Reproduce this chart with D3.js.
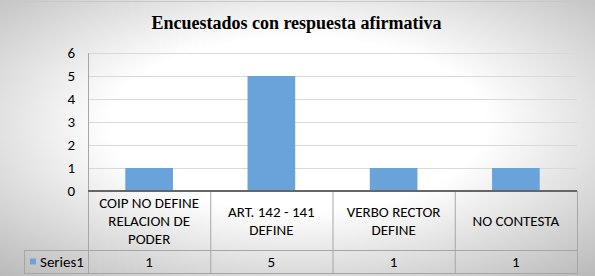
<!DOCTYPE html>
<html>
<head>
<meta charset="utf-8">
<script src="https://cdn.jsdelivr.net/npm/d3@7"></script>
<style>
  html, body { margin: 0; padding: 0; background: #fff; }
  svg { display: block; }
</style>
</head>
<body>
<svg id="chart" width="595" height="276"></svg>
<script>
// data
const chartTitle = 'Encuestados con respuesta afirmativa';
const categories = ['COIP NO DEFINE RELACION DE PODER', 'ART. 142 - 141 DEFINE', 'VERBO RECTOR DEFINE', 'NO CONTESTA'];
const categoryLines = [['COIP NO DEFINE', 'RELACION DE', 'PODER'], ['ART. 142 - 141', 'DEFINE'], ['VERBO RECTOR', 'DEFINE'], ['NO CONTESTA']];
const seriesName = 'Series1';
const seriesValues = [1, 5, 1, 1];
const yTicks = [0, 1, 2, 3, 4, 5, 6];

const W = 595, H = 276;
const margin = { top: 53, left: 88, right: 18 };
const plotBottom = 191;
const headerBottom = 250;
const tableBottom = 273;
const legendLeft = 24;
const font = 'Carlito, Lato, "Liberation Sans", sans-serif';
const fontSize = '15px';

const svg = d3.select('#chart');

// background gradient
const defs = svg.append('defs');
const grad = defs.append('radialGradient')
    .attr('id', 'bg')
    .attr('cx', '50%').attr('cy', '45%').attr('r', '75%');
grad.append('stop').attr('offset', '0%').attr('stop-color', '#ffffff');
grad.append('stop').attr('offset', '42%').attr('stop-color', '#ffffff');
grad.append('stop').attr('offset', '100%').attr('stop-color', '#b8b8b8');

svg.append('rect')
    .attr('width', W).attr('height', H)
    .attr('fill', 'url(#bg)');
svg.append('line')
    .attr('x1', 0).attr('x2', W).attr('y1', 1.5).attr('y2', 1.5)
    .attr('stroke', '#c8c8c8').attr('stroke-width', 1);

// scales
const xScale = d3.scaleBand().domain(categories).range([margin.left, W - margin.right]).padding(0);
const yScale = d3.scaleLinear().domain([0, 6]).range([plotBottom, margin.top]);

// title
svg.append('text')
    .attr('x', W / 2 - 1).attr('y', 29)
    .attr('text-anchor', 'middle')
    .style('font-family', '"Liberation Serif", "Times New Roman", serif')
    .style('font-weight', 'bold')
    .style('font-size', '18px')
    .attr('fill', '#000')
    .text(chartTitle);

// y axis + gridlines
const yAxis = svg.append('g')
    .attr('class', 'axis axis-y')
    .attr('transform', `translate(${margin.left}, 0)`)
    .call(d3.axisLeft(yScale).tickValues(yTicks).tickSize(-(W - margin.right - margin.left)).tickPadding(13).tickFormat(d3.format('d')));
yAxis.select('.domain').remove();
yAxis.selectAll('.tick line').attr('stroke', '#d9d9d9');
yAxis.selectAll('.tick text')
    .style('font-family', font).style('font-size', fontSize).attr('fill', '#000');

// bars
const barW = xScale.bandwidth() * 0.39;
svg.append('g').attr('class', 'bars')
    .selectAll('.bar')
    .data(seriesValues)
    .enter()
    .append('rect')
    .attr('class', 'bar')
    .attr('x', (d, i) => xScale(categories[i]) + (xScale.bandwidth() - barW) / 2)
    .attr('y', d => yScale(d))
    .attr('width', barW)
    .attr('height', d => yScale(0) - yScale(d))
    .style('fill', '#6aa3da');

// data table lines
const table = svg.append('g').attr('class', 'table');
const lineColor = '#a6a6a6';
// plot left edge, down to table bottom
table.append('line')
    .attr('x1', margin.left + 0.5).attr('x2', margin.left + 0.5)
    .attr('y1', margin.top).attr('y2', tableBottom)
    .attr('stroke', lineColor);
// column separators
categories.forEach((c, i) => {
    const x = xScale(c) + xScale.bandwidth();
    table.append('line')
        .attr('x1', x + 0.5).attr('x2', x + 0.5)
        .attr('y1', plotBottom).attr('y2', tableBottom)
        .attr('stroke', lineColor);
});
// horizontal lines
table.append('line')
    .attr('x1', legendLeft).attr('x2', W - margin.right)
    .attr('y1', headerBottom + 0.5).attr('y2', headerBottom + 0.5)
    .attr('stroke', lineColor);
table.append('line')
    .attr('x1', legendLeft).attr('x2', W - margin.right + 1)
    .attr('y1', tableBottom + 0.5).attr('y2', tableBottom + 0.5)
    .attr('stroke', lineColor);
table.append('line')
    .attr('x1', legendLeft + 0.5).attr('x2', legendLeft + 0.5)
    .attr('y1', headerBottom).attr('y2', tableBottom)
    .attr('stroke', lineColor);

// zero axis line
svg.append('line')
    .attr('x1', margin.left).attr('x2', W - margin.right)
    .attr('y1', yScale(0)).attr('y2', yScale(0))
    .attr('stroke', '#666').attr('stroke-width', 2);

// category labels
const lineH = 18;
const headerMid = (plotBottom + headerBottom) / 2;
categoryLines.forEach((lines, i) => {
    const cx = xScale(categories[i]) + xScale.bandwidth() / 2;
    const t = table.append('text')
        .attr('text-anchor', 'middle')
        .style('font-family', font).style('font-size', fontSize)
        .attr('fill', '#000');
    lines.forEach((l, j) => {
        t.append('tspan')
            .attr('x', cx)
            .attr('y', headerMid + (j - (lines.length - 1) / 2) * lineH + 5)
            .text(l);
    });
});

// values row
const rowMid = (headerBottom + tableBottom) / 2;
seriesValues.forEach((v, i) => {
    table.append('text')
        .attr('x', xScale(categories[i]) + xScale.bandwidth() / 2)
        .attr('y', rowMid + 5)
        .attr('text-anchor', 'middle')
        .style('font-family', font).style('font-size', fontSize)
        .attr('fill', '#000')
        .text(v);
});

// legend key
table.append('rect')
    .attr('x', 30).attr('y', rowMid - 3)
    .attr('width', 6).attr('height', 6)
    .style('fill', '#6aa3da');
table.append('text')
    .attr('x', 40).attr('y', rowMid + 5)
    .style('font-family', font).style('font-size', fontSize)
    .attr('fill', '#000')
    .text(seriesName);
</script>
</body>
</html>
